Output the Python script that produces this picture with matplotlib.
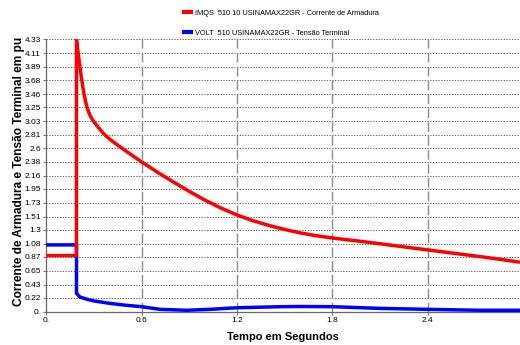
import matplotlib
matplotlib.use('Agg')
import numpy as np
import matplotlib.pyplot as plt
from matplotlib.lines import Line2D

plt.rcParams['font.family'] = ['Liberation Sans', 'DejaVu Sans']

# armature current (red), pu
t_red = [0.0, 0.19, 0.19, 0.20, 0.21, 0.22, 0.23, 0.24, 0.25, 0.26, 0.275, 0.296, 0.33, 0.36, 0.40,
         0.45, 0.5, 0.6, 0.7, 0.8, 0.9, 1.0, 1.1, 1.2, 1.3, 1.4, 1.5, 1.6, 1.7, 1.8, 1.9, 2.0,
         2.2, 2.4, 2.6, 2.8, 2.98]
v_red = [0.89, 0.89, 4.33, 4.12, 3.93, 3.74, 3.57, 3.43, 3.31, 3.22, 3.12, 3.03, 2.92, 2.83, 2.74,
         2.645, 2.555, 2.38, 2.215, 2.06, 1.91, 1.77, 1.645, 1.535, 1.445, 1.37, 1.305, 1.25, 1.205, 1.17, 1.14, 1.11,
         1.045, 0.98, 0.915, 0.85, 0.785]

# terminal voltage (blue), pu
t_blue = [0.0, 0.19, 0.19, 0.212, 0.25, 0.296, 0.4, 0.5, 0.6, 0.716, 0.884, 1.03, 1.198, 1.471, 1.6,
          1.8, 2.1, 2.4, 2.73, 2.98]
v_blue = [1.06, 1.06, 0.29, 0.23, 0.20, 0.17, 0.13, 0.10, 0.077, 0.035, 0.02, 0.035, 0.06, 0.077, 0.08,
          0.077, 0.05, 0.035, 0.02, 0.02]

y_tick_labels = ['0.', '0.22', '0.43', '0.65', '0.87', '1.08', '1.3', '1.51', '1.73', '1.95', '2.16',
                 '2.38', '2.6', '2.81', '3.03', '3.25', '3.46', '3.68', '3.89', '4.11', '4.33']
x_ticks = [0.0, 0.6, 1.2, 1.8, 2.4]
x_tick_labels = ['0.', '0.6', '1.2', '1.8', '2.4']

label_red = 'IMQS  510 10 USINAMAX22GR - Corrente de Armadura'
label_blue = 'VOLT  510 USINAMAX22GR - Tensão Terminal'

fig = plt.figure(figsize=(5.2, 3.45), dpi=100)
ax = fig.add_axes([0.089, 0.097, 0.911, 0.789])

y_ticks = [float(s) for s in y_tick_labels]
for y in y_ticks[1:]:
    ax.axhline(y, color='#555555', lw=0.7, ls=(0, (1.2, 1.6)), zorder=1)
for x in x_ticks[1:]:
    ax.axvline(x, color='#8c8c8c', lw=1.0, ls=(0, (7, 3)), zorder=1)

ax.plot(t_blue, v_blue, color='#0000ff', lw=2.5, zorder=3, solid_capstyle='butt')
ax.plot(t_red, v_red, color='#ff0000', lw=2.5, zorder=4, solid_capstyle='butt')

ax.set_xlim(0, 2.98)
ax.set_ylim(0, 4.33)
ax.set_yticks(y_ticks)
ax.set_yticklabels(y_tick_labels)
ax.set_xticks(x_ticks)
ax.set_xticklabels(x_tick_labels)
ax.tick_params(axis='both', labelsize=6, color='#777777', length=2.5, width=0.8, pad=1.5)

for s in ['top', 'right']:
    ax.spines[s].set_visible(False)
for s in ['left', 'bottom']:
    ax.spines[s].set_color('#666666')
    ax.spines[s].set_linewidth(0.9)

ax.set_xlabel('Tempo em Segundos', fontsize=8, fontweight='bold', labelpad=6)
ax.set_ylabel('Corrente de Armadura e Tensão Terminal em pu', fontsize=8.6, fontweight='bold')
ax.yaxis.set_label_coords(-0.045, 0.515)

handles = [Line2D([], [], color='#ff0000', lw=3), Line2D([], [], color='#0000ff', lw=3)]
fig.legend(handles, [label_red, label_blue], loc='upper left', bbox_to_anchor=(0.345, 0.985),
           bbox_transform=fig.transFigure, frameon=False, fontsize=5.3, handlelength=1.0,
           handletextpad=0.5, labelspacing=1.75, borderaxespad=0.2)

fig.savefig('out.png', dpi=100)
